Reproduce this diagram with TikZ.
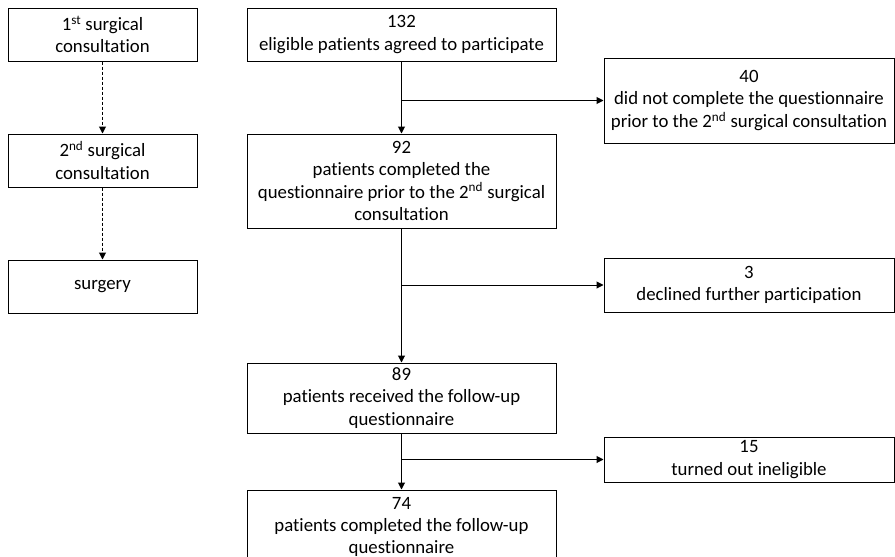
\documentclass[tikz,border=0pt]{standalone}
\usepackage{fontspec}
\setmainfont{Carlito}[Ligatures=NoCommon]
\usetikzlibrary{arrows.meta}
\usetikzlibrary{positioning}

\begin{document}
\begin{tikzpicture}[x=1pt, y=-1pt,
    box/.style={draw, line width=1pt, align=center, inner sep=0pt,
        font=\fontsize{18.8}{22.3}\selectfont},
    flow/.style={-{Triangle[length=7pt,width=7pt]}, line width=1pt},
    dashflow/.style={flow, dash pattern=on 3pt off 2pt}]
    \useasboundingbox (0,0) rectangle (895,557);

    % Timeline
    \node[box, minimum width=189, minimum height=53] (first) at (102.5,34.5) {1\textsuperscript{st} surgical\\consultation};
    \node[box, minimum width=189, minimum height=53] (second) at (102.5,160.5) {2\textsuperscript{nd} surgical\\consultation};
    \node[box, minimum width=189, minimum height=53] (surgery) at (102.5,286.5) {surgery};

    \draw[dashflow] (first) -- (second);
    \draw[dashflow] (second) -- (surgery);

    % Main flow
    \node[box, minimum width=309, minimum height=53] (agreed) at (401.5,34.5) {132\\eligible patients agreed to participate};
    \node[box, minimum width=309, minimum height=94] (completed) at (401.5,181) {92\\patients completed the\\questionnaire prior to the 2\textsuperscript{nd} surgical\\consultation};
    \node[box, minimum width=309, minimum height=70] (received) at (401.5,398) {89\\patients received the follow-up\\questionnaire};
    \node[box, minimum width=309, minimum height=74] (final) at (401.5,527) {74\\patients completed the follow-up\\questionnaire};

    % Exclusions
    \node[box, minimum width=290, minimum height=85] (notdone) at (749,100.5) {40\\did not complete the questionnaire\\prior to the 2\textsuperscript{nd} surgical consultation};
    \node[box, minimum width=290, minimum height=54] (declined) at (749,285) {3\\declined further participation};
    \node[box, minimum width=290, minimum height=45] (inelig) at (749,459.5) {15\\turned out ineligible};

    \draw[flow] (agreed) -- (completed);
    \draw[flow] (completed) -- (received);
    \draw[flow] (received) -- (final);

    \draw[flow] (agreed.south |- notdone.west) -- (notdone.west);
    \draw[flow] (completed.south |- declined.west) -- (declined.west);
    \draw[flow] (received.south |- inelig.west) -- (inelig.west);
\end{tikzpicture}
\end{document}
